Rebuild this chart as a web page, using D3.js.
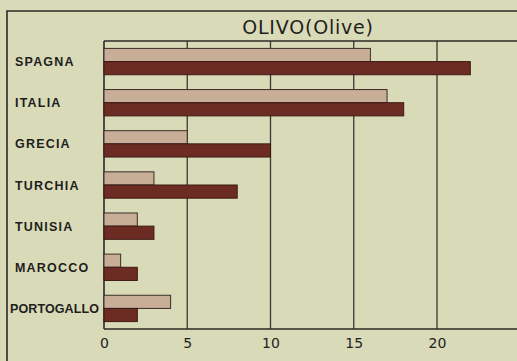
<!DOCTYPE html>
<html>
<head>
<meta charset="utf-8">
<script src="https://cdn.jsdelivr.net/npm/d3@7"></script>
<style>
  html, body { margin: 0; padding: 0; background: #d9dab8; }
  svg { display: block; }
</style>
</head>
<body>
<svg id="chart" width="517" height="361"></svg>
<script>
// Olive production by country, two periods per country
const countries = ["SPAGNA", "ITALIA", "GRECIA", "TURCHIA", "TUNISIA", "MAROCCO", "PORTOGALLO"];
const periodA = [16, 17, 5, 3, 2, 1, 4];     // lighter bars (upper)
const periodB = [22, 18, 10, 8, 3, 2, 2];    // darker bars (lower)
const tickValues = [0, 5, 10, 15, 20];
const title = "OLIVO(Olive)";

const svg = d3.select("#chart");
const W = 517, H = 361;
const plot = { left: 104, top: 41, bottom: 329 };

svg.append("rect").attr("width", W).attr("height", H).attr("fill", "#d9dab8");

// outer frame (left and top edges)
svg.append("path")
  .attr("d", `M7,${H} V11 H${W}`)
  .attr("fill", "none").attr("stroke", "#2a2a26").attr("stroke-width", 1.6);

const x = d3.scaleLinear().domain([0, 20]).range([plot.left, 437]);
const y = d3.scaleBand().domain(countries).range([plot.top, plot.bottom]).paddingInner(0.36).paddingOuter(0.18);

// vertical grid lines
svg.append("g").selectAll("line").data(tickValues.slice(1)).join("line")
  .attr("x1", d => x(d)).attr("x2", d => x(d))
  .attr("y1", plot.top).attr("y2", plot.bottom)
  .attr("stroke", "#3a3a34").attr("stroke-width", 1.3);

// plot top border, left border
svg.append("line").attr("x1", plot.left).attr("x2", W).attr("y1", plot.top).attr("y2", plot.top)
  .attr("stroke", "#2a2a26").attr("stroke-width", 1.5);
svg.append("line").attr("x1", plot.left).attr("x2", plot.left).attr("y1", plot.top).attr("y2", plot.bottom)
  .attr("stroke", "#2a2a26").attr("stroke-width", 1.6);

const half = y.bandwidth() / 2;

// lighter bars
svg.append("g").selectAll("rect").data(countries).join("rect")
  .attr("x", plot.left)
  .attr("y", d => y(d))
  .attr("width", (d, i) => x(periodA[i]) - plot.left)
  .attr("height", half)
  .attr("fill", "#c8ad97")
  .attr("stroke", "#3a2e28").attr("stroke-width", 1);

// darker bars
svg.append("g").selectAll("rect").data(countries).join("rect")
  .attr("x", plot.left)
  .attr("y", d => y(d) + half)
  .attr("width", (d, i) => x(periodB[i]) - plot.left)
  .attr("height", half)
  .attr("fill", "#6d2c23")
  .attr("stroke", "#3a1a14").attr("stroke-width", 1);

// bottom axis with labels
const axis = d3.axisBottom(x).tickValues(tickValues).tickSize(0).tickPadding(9).tickFormat(d3.format("d"));
const gx = svg.append("g").attr("transform", `translate(0,${plot.bottom})`).call(axis);
gx.select(".domain").remove();
svg.append("line").attr("x1", plot.left).attr("x2", W).attr("y1", plot.bottom).attr("y2", plot.bottom)
  .attr("stroke", "#2a2a26").attr("stroke-width", 1.6);
gx.selectAll("text")
  .attr("font-family", "'DejaVu Sans', sans-serif")
  .attr("font-size", 14).attr("fill", "#222");

// country labels
svg.append("g").selectAll("text").data(countries).join("text")
  .attr("x", d => d === "PORTOGALLO" ? 10 : 15)
  .attr("y", d => y(d) + y.bandwidth() / 2 + 4.5)
  .attr("font-family", "'Liberation Sans', Arial, sans-serif")
  .attr("font-weight", "bold")
  .attr("font-size", 12.5)
  .attr("letter-spacing", d => d === "PORTOGALLO" ? 0.1 : 1.2)
  .attr("fill", "#1e1e1c")
  .text(d => d);

// title
svg.append("text")
  .attr("x", 308).attr("y", 34)
  .attr("text-anchor", "middle")
  .attr("font-family", "'DejaVu Sans', sans-serif")
  .attr("font-size", 19)
  .attr("letter-spacing", 0.8)
  .attr("fill", "#1e1e1c")
  .text(title);
</script>
</body>
</html>
